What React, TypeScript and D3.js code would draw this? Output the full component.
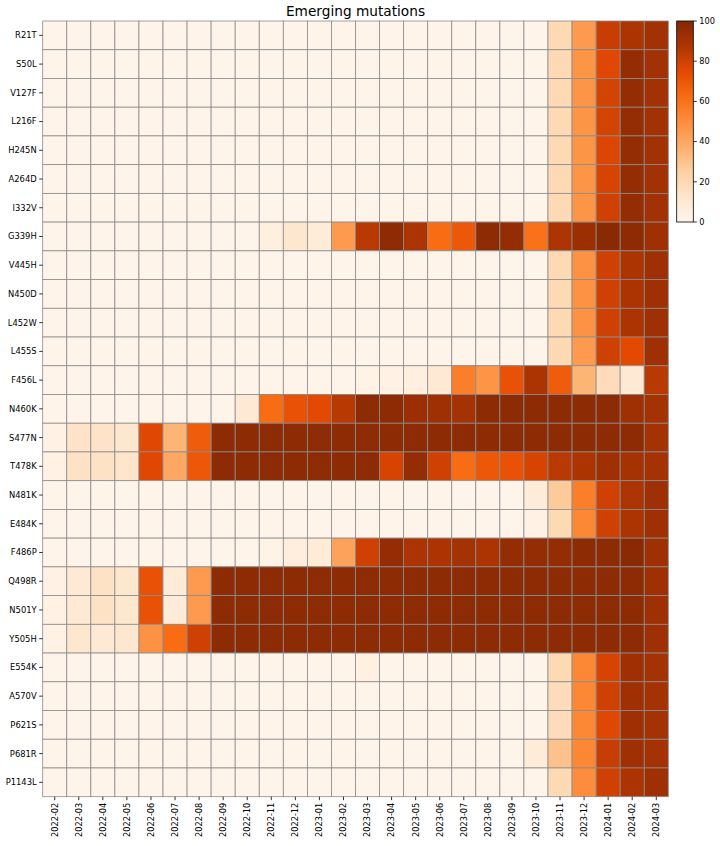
import React from "react";
import * as d3 from "d3";

const months = [
  "2022-02", "2022-03", "2022-04", "2022-05", "2022-06", "2022-07", "2022-08",
  "2022-09", "2022-10", "2022-11", "2022-12", "2023-01", "2023-02", "2023-03",
  "2023-04", "2023-05", "2023-06", "2023-07", "2023-08", "2023-09", "2023-10",
  "2023-11", "2023-12", "2024-01", "2024-02", "2024-03",
];

const mutations = [
  "R21T", "S50L", "V127F", "L216F", "H245N", "A264D", "I332V", "G339H",
  "V445H", "N450D", "L452W", "L455S", "F456L", "N460K", "S477N", "T478K",
  "N481K", "E484K", "F486P", "Q498R", "N501Y", "Y505H", "E554K", "A570V",
  "P621S", "P681R", "P1143L",
];

const R21T = [1,1,1,1,1,1,1,1,1,1,1,1,1,1,1,1,1,1,1,1,1,20,45,82,88,91];
const S50L = [1,1,1,1,1,1,1,1,1,1,1,1,1,1,1,1,1,1,1,1,1,20,47,76,95,91];
const V127F = [1,1,1,1,1,1,1,1,1,1,1,1,1,1,1,1,1,1,1,1,1,20,47,79,95,91];
const L216F = [1,1,1,1,1,1,1,1,1,1,1,1,1,1,1,1,1,1,1,1,1,20,47,79,95,91];
const H245N = [1,1,1,1,1,1,1,1,1,1,1,1,1,1,1,1,1,1,1,1,1,20,47,77,95,91];
const A264D = [1,1,1,1,1,1,1,1,1,1,1,1,1,1,1,1,1,1,1,1,1,20,47,78,95,91];
const I332V = [1,1,1,1,1,1,1,1,1,1,1,1,1,1,1,1,1,1,1,1,1,20,47,80,95,91];
const G339H = [1,1,1,1,1,1,1,1,1,5,12,8,45,85,97,88,62,70,97,95,60,88,93,98,97,92];
const V445H = [1,1,1,1,1,1,1,1,1,1,1,1,1,1,1,1,1,1,1,1,1,20,48,80,88,92];
const N450D = [1,1,1,1,1,1,1,1,1,1,1,1,1,1,1,1,1,1,1,1,1,20,48,80,88,92];
const L452W = [1,1,1,1,1,1,1,1,1,1,1,1,1,1,1,1,1,1,1,1,1,20,48,80,88,92];
const L455S = [1,1,1,1,1,1,1,1,1,1,1,1,1,1,1,1,1,1,1,1,1,20,45,80,75,92];
const F456L = [1,1,1,1,1,1,1,1,1,1,1,1,1,2,3,5,10,55,47,72,88,68,35,18,10,85];
const N460K = [1,1,1,1,1,1,1,1,10,62,72,75,85,97,97,93,92,90,97,97,97,97,97,97,92,90];
const S477N = [3,14,14,12,76,35,68,97,97,97,97,97,97,97,97,97,97,97,97,97,97,97,97,97,97,90];
const T478K = [3,15,15,13,76,40,70,97,97,97,97,97,97,97,78,95,80,62,70,72,78,85,88,92,90,90];
const N481K = [1,1,1,1,1,1,1,1,1,1,1,1,1,1,1,1,1,1,1,1,8,27,55,80,88,92];
const E484K = [1,1,1,1,1,1,1,1,1,1,1,1,1,1,1,1,1,1,1,1,3,20,52,80,88,92];
const F486P = [1,1,1,1,1,1,1,1,1,2,6,8,42,80,95,88,88,90,88,95,95,95,97,97,98,92];
const Q498R = [3,10,15,12,72,8,45,97,97,97,97,97,97,97,97,97,97,97,97,97,97,97,97,97,97,92];
const N501Y = [3,10,15,12,72,8,45,97,97,97,97,97,97,97,97,97,97,97,97,97,97,97,97,97,97,92];
const Y505H = [3,12,10,12,48,62,80,97,97,97,97,97,97,97,97,97,97,97,97,97,97,97,97,97,97,92];
const E554K = [1,1,1,1,1,1,1,1,1,1,1,1,1,4,1,1,1,1,1,1,1,20,52,78,92,90];
const A570V = [1,1,1,1,1,1,1,1,1,1,1,1,1,1,1,1,1,1,1,1,1,18,52,80,92,90];
const P621S = [1,1,1,1,1,1,1,1,1,1,1,1,1,1,1,1,1,1,1,1,1,18,52,76,92,90];
const P681R = [1,1,1,1,1,1,1,1,1,1,1,1,1,1,1,1,1,1,1,1,8,30,52,82,92,90];
const P1143L = [1,1,1,1,1,1,1,1,1,1,1,1,1,1,1,1,1,1,1,1,1,20,50,80,88,92];

const rows = [
  R21T, S50L, V127F, L216F, H245N, A264D, I332V, G339H, V445H, N450D, L452W,
  L455S, F456L, N460K, S477N, T478K, N481K, E484K, F486P, Q498R, N501Y, Y505H,
  E554K, A570V, P621S, P681R, P1143L,
];

const cbarTicks = [0, 20, 40, 60, 80, 100];

const orangeStops = [
  "#fff5eb", "#fee6ce", "#fdd0a2", "#fdae6b", "#fd8d3c",
  "#f86b12", "#e44902", "#ae3503", "#832804",
];

const FONT = "DejaVu Sans, sans-serif";

export default function App() {
  const left = 42.7, right = 668.3, top = 21, bottom = 796.7;
  const x = d3.scaleBand<string>().domain(months).range([left, right]).padding(0);
  const y = d3.scaleBand<string>().domain(mutations).range([top, bottom]).padding(0);
  const color = d3
    .scaleLinear<string>()
    .domain(orangeStops.map((_, i) => (i / (orangeStops.length - 1)) * 100))
    .range(orangeStops)
    .interpolate(d3.interpolateRgb)
    .clamp(true);

  const cbX = 676.7, cbW = 16.6;
  const cbY = d3.scaleLinear().domain([0, 100]).range([222, 21]);

  return (
    <svg
      width={720}
      height={846}
      style={{ position: "absolute", left: 0, top: 0, background: "#fff" }}
      fontFamily={FONT}
    >
      <defs>
        <linearGradient id="cbar" x1="0" y1="1" x2="0" y2="0">
          {orangeStops.map((c, i) => (
            <stop key={i} offset={`${(i / (orangeStops.length - 1)) * 100}%`} stopColor={c} />
          ))}
        </linearGradient>
      </defs>
      <text x={(left + right) / 2} y={16} textAnchor="middle" fontSize={13.7} fill="#000">
        Emerging mutations
      </text>
      <g>
        {rows.map((vals, i) =>
          vals.map((v, j) => (
            <rect
              key={`${i}-${j}`}
              x={x(months[j])}
              y={y(mutations[i])}
              width={x.bandwidth()}
              height={y.bandwidth()}
              fill={color(v)}
              stroke="#8c8c8c"
              strokeWidth={0.8}
            />
          ))
        )}
      </g>
      <g>
        {mutations.map((m) => {
          const cy = (y(m) as number) + y.bandwidth() / 2;
          return (
            <g key={m}>
              <line x1={left - 3.5} x2={left} y1={cy} y2={cy} stroke="#000" strokeWidth={0.8} />
              <text x={left - 6} y={cy} dy="0.35em" textAnchor="end" fontSize={8.4} fill="#000">
                {m}
              </text>
            </g>
          );
        })}
      </g>
      <g>
        {months.map((mo) => {
          const cx = (x(mo) as number) + x.bandwidth() / 2;
          return (
            <g key={mo}>
              <line x1={cx} x2={cx} y1={bottom} y2={bottom + 3.5} stroke="#000" strokeWidth={0.8} />
              <text
                transform={`translate(${cx},${bottom + 6}) rotate(-90)`}
                dy="0.35em"
                textAnchor="end"
                fontSize={8.2}
                fill="#000"
              >
                {mo}
              </text>
            </g>
          );
        })}
      </g>
      <g>
        <rect x={cbX} y={cbY(100)} width={cbW} height={cbY(0) - cbY(100)} fill="url(#cbar)" />
        <rect
          x={cbX}
          y={cbY(100)}
          width={cbW}
          height={cbY(0) - cbY(100)}
          fill="none"
          stroke="#000"
          strokeWidth={0.8}
        />
        {cbarTicks.map((t) => (
          <g key={t}>
            <line x1={cbX + cbW} x2={cbX + cbW + 3.5} y1={cbY(t)} y2={cbY(t)} stroke="#000" strokeWidth={0.8} />
            <text x={cbX + cbW + 6} y={cbY(t)} dy="0.35em" fontSize={8.2} fill="#000">
              {t}
            </text>
          </g>
        ))}
      </g>
    </svg>
  );
}
